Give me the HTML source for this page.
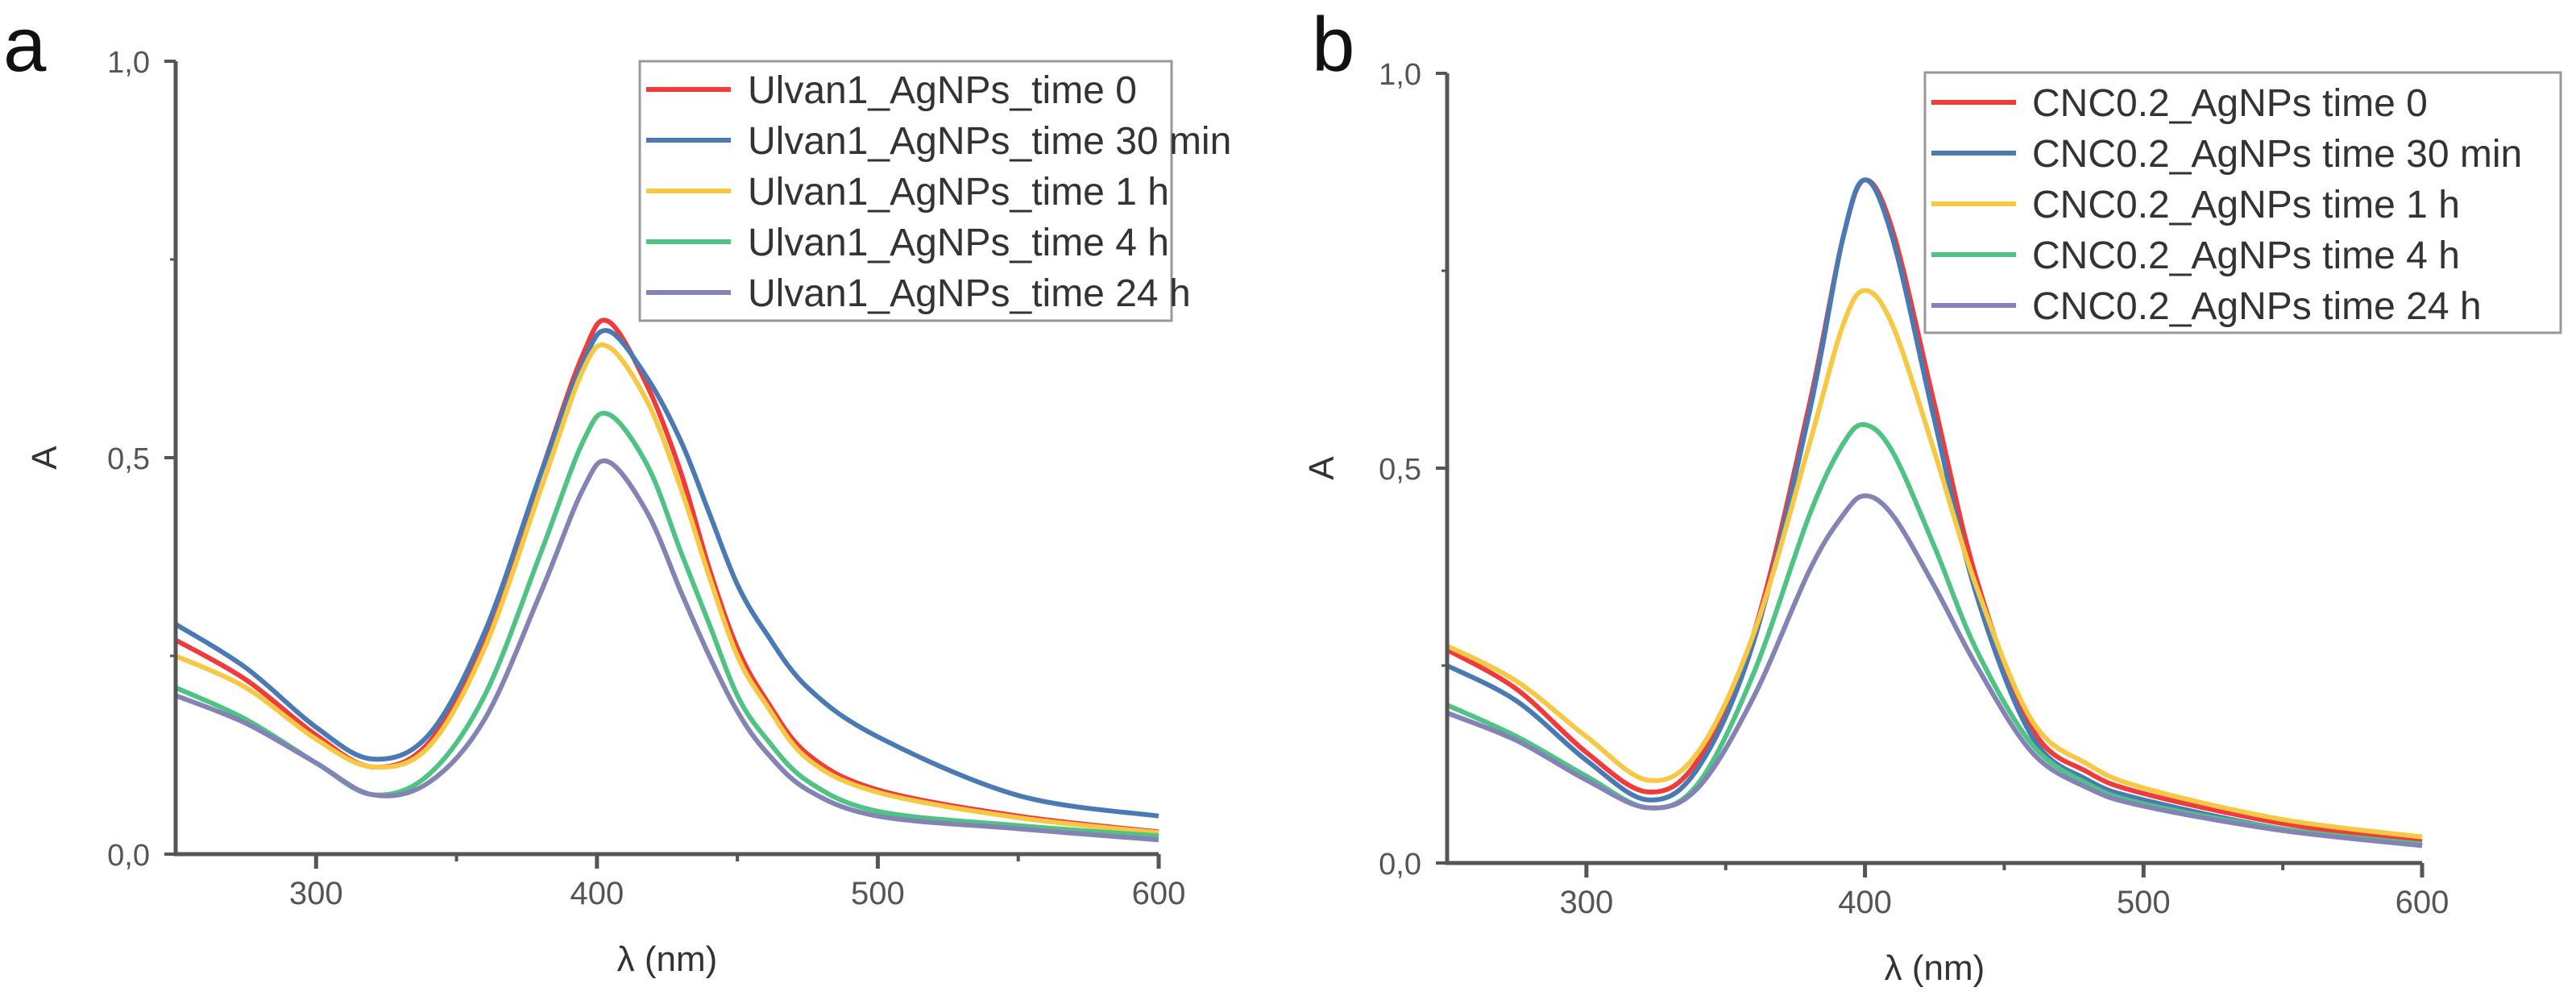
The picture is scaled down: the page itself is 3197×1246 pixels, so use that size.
<!DOCTYPE html>
<html><head><meta charset="utf-8"><style>
html,body{margin:0;padding:0;background:#fff;}
svg{display:block;font-family:"Liberation Sans",Arial,sans-serif;}
</style></head><body>
<svg id="chart" width="3197" height="1246" viewBox="0 0 3197 1246" xmlns="http://www.w3.org/2000/svg">
<rect width="3197" height="1246" fill="#fff"/>
</svg>
<script>
const xTicks=[300,400,500,600];
const xMinor=[350,450,550];
const yTicks=[0,0.5,1.0];
const yTickLabels=["0,0","0,5","1,0"];
const yMinor=[0.25,0.75];
const colors=["#ef3b3b","#4a7ab4","#f7c844","#4fc384","#8483b5"];
const wlA=[250,275,300,320,340,360,380,395,404,418,430,440,450,460,475,500,550,600];
const aRed=[.27,.22,.15,.11,.14,.27,.48,.63,.672,.59,.48,.36,.26,.196,.126,.081,.048,.028];
const aBlue=[.29,.235,.16,.12,.15,.28,.48,.62,.66,.60,.52,.43,.34,.28,.21,.148,.074,.048];
const aYellow=[.25,.21,.145,.11,.135,.26,.46,.61,.64,.57,.46,.35,.25,.19,.12,.078,.046,.027];
const aGreen=[.21,.17,.115,.075,.10,.20,.38,.52,.555,.49,.38,.29,.20,.147,.092,.054,.036,.023];
const aPurple=[.20,.165,.115,.075,.09,.17,.33,.46,.495,.43,.33,.25,.18,.13,.081,.048,.032,.018];
const wlB=[250,275,300,322,340,360,380,392,400,410,425,440,460,480,500,550,600];
const bRed=[.27,.22,.14,.09,.13,.29,.58,.79,.865,.80,.58,.36,.17,.115,.088,.05,.027];
const bBlue=[.25,.205,.13,.08,.12,.28,.57,.79,.865,.79,.56,.34,.16,.105,.08,.043,.022];
const bYellow=[.275,.23,.16,.105,.14,.29,.53,.68,.725,.68,.52,.35,.18,.125,.095,.055,.033];
const bGreen=[.20,.16,.11,.07,.10,.24,.44,.53,.555,.52,.40,.27,.15,.10,.075,.043,.024];
const bPurple=[.19,.155,.105,.07,.095,.21,.37,.44,.465,.44,.35,.25,.14,.095,.072,.041,.022];
const labelsA=["Ulvan1_AgNPs_time 0","Ulvan1_AgNPs_time 30 min","Ulvan1_AgNPs_time 1 h","Ulvan1_AgNPs_time 4 h","Ulvan1_AgNPs_time 24 h"];
const labelsB=["CNC0.2_AgNPs time 0","CNC0.2_AgNPs time 30 min","CNC0.2_AgNPs time 1 h","CNC0.2_AgNPs time 4 h","CNC0.2_AgNPs time 24 h"];

const NS="http://www.w3.org/2000/svg";
const svg=document.getElementById("chart");
function mk(tag,attrs,parent){const e=document.createElementNS(NS,tag);for(const k in attrs)e.setAttribute(k,attrs[k]);(parent||svg).appendChild(e);return e;}

function panel(cfg){
  const g=mk("g",{});
  
  
  const sx=v=>cfg.x0+(v-250)/350*(cfg.x1-cfg.x0);
  const sy=v=>cfg.y0-v*(cfg.y0-cfg.y1);
  cfg.series.forEach((s,i)=>{
    const pts=cfg.wl.map((w,j)=>[sx(w),sy(s[j])]);
    let d="M"+pts[0][0]+","+pts[0][1];
    for(let j=0;j<pts.length-1;j++){
      const p0=pts[Math.max(0,j-1)],p1=pts[j],p2=pts[j+1],p3=pts[Math.min(pts.length-1,j+2)];
      const c1=[p1[0]+(p2[0]-p0[0])/6,p1[1]+(p2[1]-p0[1])/6];
      const c2=[p2[0]-(p3[0]-p1[0])/6,p2[1]-(p3[1]-p1[1])/6];
      d+=" C"+c1[0]+","+c1[1]+" "+c2[0]+","+c2[1]+" "+p2[0]+","+p2[1];
    }
    const p=mk("path",{d:d,fill:"none",stroke:colors[i],"stroke-width":6,"stroke-linejoin":"round"},g);
    
    
  });
  const ax=mk("path",{d:`M${cfg.x0},${cfg.y1} L${cfg.x0},${cfg.y0} L${cfg.x1},${cfg.y0}`,fill:"none",stroke:"#555","stroke-width":5},g);
  
  
  xTicks.forEach(t=>{
    mk("line",{x1:sx(t),x2:sx(t),y1:cfg.y0,y2:cfg.y0+18,stroke:"#555","stroke-width":5},g);
    const tx=mk("text",{x:sx(t),y:cfg.y0+62,"font-size":40,fill:"#555","text-anchor":"middle"},g);
    tx.textContent=t;
    
    
  });
  xMinor.forEach(t=>mk("line",{x1:sx(t),x2:sx(t),y1:cfg.y0,y2:cfg.y0+9,stroke:"#555","stroke-width":4},g));
  yTicks.forEach((t,i)=>{
    mk("line",{x1:cfg.x0-14,x2:cfg.x0,y1:sy(t),y2:sy(t),stroke:"#555","stroke-width":4},g);
    const tx=mk("text",{x:cfg.x0-32,y:sy(t)+14,"font-size":38,fill:"#555","text-anchor":"end"},g);
    tx.textContent=yTickLabels[i];
    
    
  });
  yMinor.forEach(t=>mk("line",{x1:cfg.x0-7,x2:cfg.x0,y1:sy(t),y2:sy(t),stroke:"#555","stroke-width":3},g));
  const yt=mk("text",{x:cfg.yTitleX,y:(cfg.y0+cfg.y1)/2,"font-size":44,fill:"#333","text-anchor":"middle",transform:`rotate(-90 ${cfg.yTitleX} ${(cfg.y0+cfg.y1)/2})`},g);
  yt.textContent="A";
  
  
  const xt=mk("text",{x:(cfg.x0+cfg.x1)/2,y:cfg.y0+145,"font-size":44,fill:"#333","text-anchor":"middle"},g);
  xt.textContent="λ (nm)";
  
  
  const pl=mk("text",{x:cfg.letterX,y:88,"font-size":96,fill:"#111"},g);
  pl.textContent=cfg.letter;
  
  
  const L=cfg.legend;
  const lg=mk("g",{},g);
  
  
  mk("rect",{x:L.x,y:L.y,width:L.w,height:L.h,fill:"#fff",stroke:"#999","stroke-width":3},lg);
  cfg.labels.forEach((lab,i)=>{
    const cy=L.y+L.first+i*L.step;
    const e=mk("g",{},lg);
    
    
    mk("line",{x1:L.x+8,x2:L.x+8+L.lineW,y1:cy,y2:cy,stroke:colors[i],"stroke-width":6},e);
    const t=mk("text",{x:L.x+L.textOff,y:cy+17,"font-size":L.fs,fill:"#333"},e);
    t.textContent=lab;
  });
}
panel({name:"panel-a",x0:218,x1:1438,y0:1060,y1:76,wl:wlA,series:[aRed,aBlue,aYellow,aGreen,aPurple],labels:labelsA,yTitleX:70,letter:"a",letterX:4,
  legend:{x:794,y:76,w:660,h:322,first:35,step:63,lineW:105,textOff:134,fs:48}});
panel({name:"panel-b",x0:1796,x1:3006,y0:1071,y1:91,wl:wlB,series:[bRed,bBlue,bYellow,bGreen,bPurple],labels:labelsB,yTitleX:1655,letter:"b",letterX:1628,
  legend:{x:2389,y:90,w:789,h:323,first:37,step:63,lineW:105,textOff:133,fs:48}});
</script>
</body></html>
